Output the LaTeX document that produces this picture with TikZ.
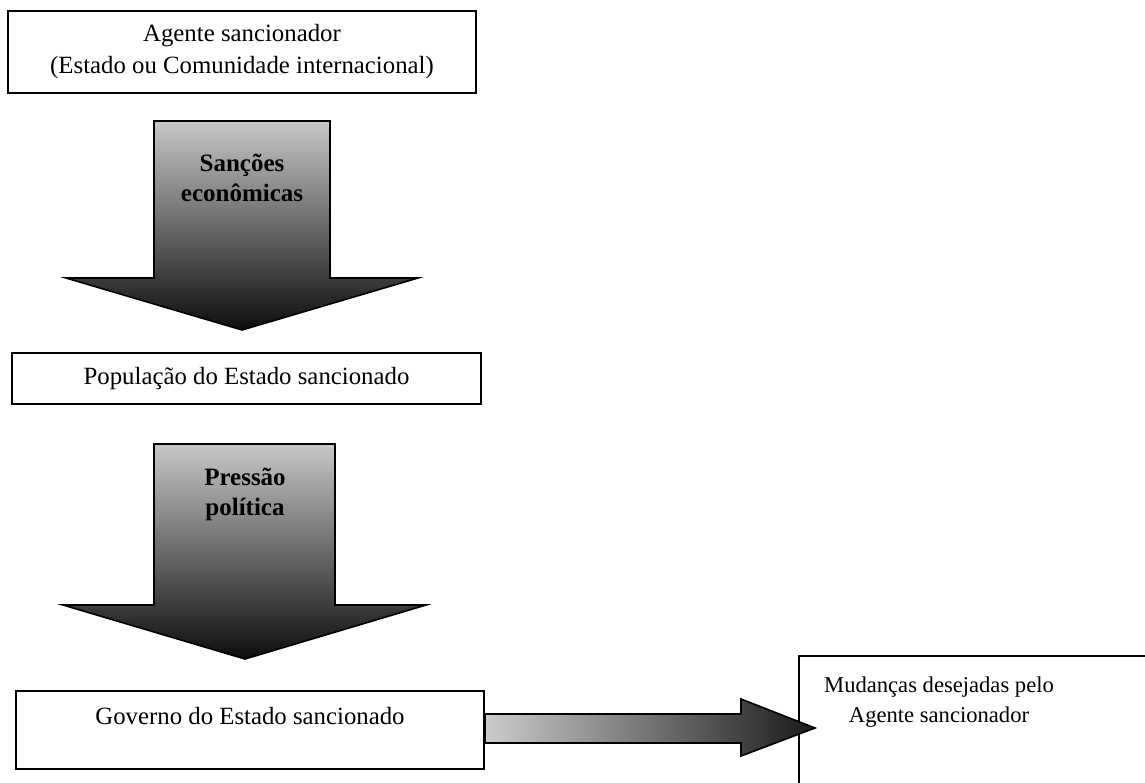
\documentclass[tikz,border=0pt]{standalone}
\usepackage{fontspec}
\setmainfont{Liberation Serif}

\begin{document}
\begin{tikzpicture}[x=0.5pt,y=-0.5pt,
    font=\fontsize{12.4}{16}\selectfont,
    caixa/.style={draw,line width=1pt,align=center,inner sep=0pt},
    rotulo/.style={align=center,font=\fontsize{12.5}{15}\selectfont\bfseries},
    seta/.style={draw,line width=0.8pt,top color=black!22,middle color=black!42,bottom color=black!95}]
    \clip[use as bounding box] (0,0) rectangle (1145,782);
    \node[caixa,minimum width=234pt,minimum height=41pt] (agente) at (242,52) {Agente sancionador\\(Estado ou Comunidade internacional)};
    \node[caixa,minimum width=234.5pt,minimum height=25.5pt] (populacao) at (246.5,378.5) {Popula\c{c}\~ao do Estado sancionado};
    \node[caixa,anchor=north west,minimum width=234pt,minimum height=39pt,text depth=14pt] (governo) at (15,690) {Governo do Estado sancionado};
    \draw[line width=1pt] (799,656) rectangle (1200,820);
    \node[align=center,font=\fontsize{11.3}{15}\selectfont] (mudancas) at (939,702) {Mudan\c{c}as desejadas pelo\\Agente sancionador};
    % setas
    \shade[seta] (154,121) -- (330,121) -- (330,278) -- (418,278) -- (242,330) -- (66,278) -- (154,278) -- cycle;
    \node[rotulo] (sancoes) at (242,178) {San\c{c}\~oes\\econ\^omicas};
    \shade[seta] (154,444) -- (335,444) -- (335,605) -- (426,605) -- (245,659) -- (63,605) -- (154,605) -- cycle;
    \node[rotulo] (pressao) at (245,494) {Press\~ao\\pol\'{\i}tica};
    \shade[draw,line width=0.8pt,left color=black!20,right color=black!90] (governo.east |- 0,714) -- (741,714) -- (741,699) -- (815,728) -- (741,756) -- (741,743) -- (governo.east |- 0,743) -- cycle;
\end{tikzpicture}
\end{document}
